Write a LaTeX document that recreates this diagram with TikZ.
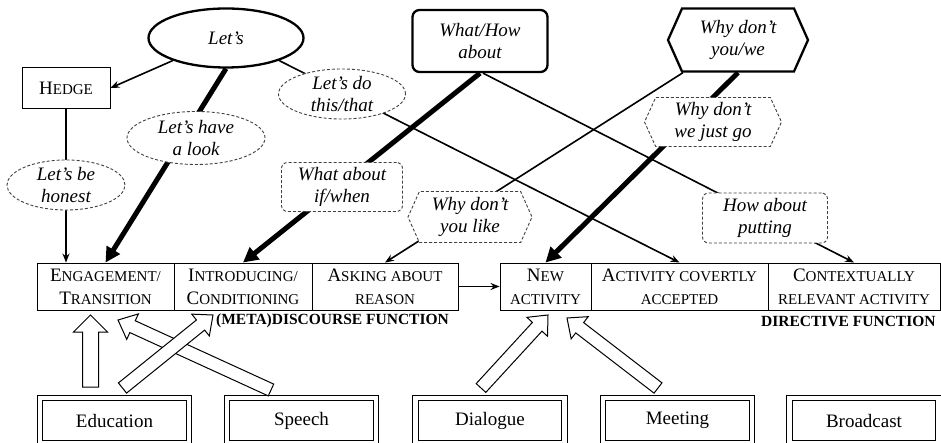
\documentclass[tikz,border=0pt]{standalone}
\usepackage{fontspec}
\setmainfont{Liberation Serif}
\usetikzlibrary{arrows.meta,shapes.geometric,shapes.symbols,calc}
\pgfdeclarelayer{bg}
\pgfsetlayers{bg,main}
\newcommand\smc[1]{{\fontsize{15}{17}\selectfont #1}}
\newcommand\hollowarrow[2]{%
  \coordinate (ha-h) at ($(#2)!16pt!(#1)$);
  \draw[harrow] ($(#1)!6.5pt!90:(#2)$) -- ($(ha-h)!6.5pt!90:(#2)$) -- ($(ha-h)!14pt!90:(#2)$)
    -- (#2) -- ($(ha-h)!14pt!-90:(#2)$) -- ($(ha-h)!6.5pt!-90:(#2)$) -- ($(#1)!6.5pt!-90:(#2)$) -- cycle;}
\begin{document}
\begin{tikzpicture}[x=1pt,y=-1pt,
  lbl/.style={font=\fontsize{19}{22}\selectfont\itshape, align=center, inner sep=0pt, fill=white},
  solidthick/.style={draw, line width=2.3pt},
  dsh/.style={draw=black!75, dash pattern=on 3pt off 2pt, line width=0.9pt},
  fcell/.style={draw, line width=0.9pt, minimum height=47pt, inner sep=0pt, align=center,
    font=\fontsize{19}{23}\selectfont, fill=white},
  medium/.style={draw, double, double distance=4.5pt, line width=0.9pt, inner sep=0pt,
    minimum height=45.5pt, minimum width=149pt, font=\fontsize{19}{22}\selectfont, fill=white},
  thin/.style={line width=1.6pt, -{Stealth[length=9pt,width=7pt]}},
  thinline/.style={line width=1.6pt},
  thick/.style={line width=5pt, -{Triangle[length=15pt,width=15pt]}},
  harrow/.style={draw, line width=1pt, fill=white, line join=miter},
  funclbl/.style={font=\fontsize{15.5}{18}\selectfont\bfseries, inner sep=0pt, anchor=west}
]
\useasboundingbox (0,0) rectangle (941,443);

% top level forms
\node[lbl, ellipse, solidthick, minimum width=155pt, minimum height=59pt] (lets) at (226,38) {Let’s};
\node[lbl, rounded corners=7pt, solidthick, minimum width=135pt, minimum height=62pt] (whathow) at (480,41) {What/How\\about};
\node[lbl, signal, signal to=east and west, signal pointer angle=132, solidthick,
      minimum width=140pt, minimum height=63pt] (whyyw) at (738,40) {Why don’t\\you/we};

\node[draw, line width=0.9pt, fill=white, inner sep=0pt, minimum width=88pt, minimum height=41pt,
      font=\fontsize{19}{22}\selectfont] (hedge) at (66,88) {H\smc{EDGE}};

% dashed forms
\node[lbl, ellipse, dsh, minimum width=138pt, minimum height=53pt] (look) at (196,138) {Let’s have\\a look};
\node[lbl, ellipse, dsh, minimum width=127pt, minimum height=48pt] (dothis) at (342,94) {Let’s do\\this/that};
\node[lbl, ellipse, dsh, minimum width=118pt, minimum height=50pt] (honest) at (66,185) {Let’s be\\honest};
\node[lbl, rounded corners=6pt, dsh, minimum width=121pt, minimum height=49pt] (whatif) at (342,187) {What about\\if/when};
\node[lbl, signal, signal to=east and west, signal pointer angle=132, dsh,
      minimum width=124pt, minimum height=51pt] (whylike) at (470,217) {Why don’t\\you like};
\node[lbl, signal, signal to=east and west, signal pointer angle=131, dsh,
      minimum width=137pt, minimum height=49pt] (whygo) at (713,122) {Why don’t\\we just go};
\node[lbl, rounded corners=6pt, dsh, minimum width=125pt, minimum height=50pt] (putting) at (765,218) {How about\\putting};

% function cells
\node[fcell, minimum width=137pt] (eng) at (105.5,286.5) {E\smc{NGAGEMENT/}\\T\smc{RANSITION}};
\node[fcell, minimum width=138pt] (intro) at (243,286.5) {I\smc{NTRODUCING/}\\C\smc{ONDITIONING}};
\node[fcell, minimum width=146pt] (ask) at (385,286.5) {A\smc{SKING ABOUT}\\\smc{REASON}};
\node[fcell, minimum width=91pt] (new) at (545.5,286.5) {N\smc{EW}\\\smc{ACTIVITY}};
\node[fcell, minimum width=177pt] (acc) at (679.5,286.5) {A\smc{CTIVITY COVERTLY}\\\smc{ACCEPTED}};
\node[fcell, minimum width=172pt] (ctx) at (854,286.5) {C\smc{ONTEXTUALLY}\\\smc{RELEVANT ACTIVITY}};

\node[funclbl] (meta) at (216,321) {(META)DISCOURSE FUNCTION};
\node[funclbl] (dir) at (761,321) {DIRECTIVE FUNCTION};

% media boxes
\node[medium] (edu) at (114.5,420.75) {Education};
\node[medium] (speech) at (301.5,420.75) {Speech};
\node[medium] (dial) at (490,420.75) {Dialogue};
\node[medium] (meet) at (677.5,420.75) {Meeting};
\node[medium] (broad) at (864,420.75) {Broadcast};

% connectors
\begin{pgfonlayer}{bg}
\draw[thin] (lets.203) -- (hedge.east);
\draw[thinline] (hedge.south) -- (honest);
\draw[thin] (honest) -- (hedge.south |- eng.north);
\draw[thick] (lets.south) -- (eng.north);
\draw[thin] (lets.-23) -- (acc.north);
\draw[thick] (whathow.south) -- (intro.north);
\draw[thin] ($(whathow.south)+(3,0)$) -- (ctx.north);
\draw[thin] ($(whyyw.south)+(-55,0)$) -- (ask.north);
\draw[thick] (whyyw.south) -- (new.north);
\end{pgfonlayer}
\draw[thin] (ask.east) -- (new.west);

% hollow arrows from media
\coordinate (e1) at (90.5,387);  \coordinate (t1) at (90.5,315);
\coordinate (e3) at (271,390); \coordinate (t3) at (118,320);
\coordinate (e2) at (122.5,388); \coordinate (t2) at (213,315);
\coordinate (e4) at (481,388); \coordinate (t4) at (548,315);
\coordinate (e5) at (658,388); \coordinate (t5) at (567,318);
\draw[harrow] ($(e1)+(-8,0)$) -- ($(t1)+(-8,17)$) -- ($(t1)+(-17,17)$) -- (t1) -- ($(t1)+(17,17)$) -- ($(t1)+(8,17)$) -- ($(e1)+(8,0)$) -- cycle;
\hollowarrow{e3}{t3}
\hollowarrow{e2}{t2}
\hollowarrow{e4}{t4}
\hollowarrow{e5}{t5}
\end{tikzpicture}
\end{document}
